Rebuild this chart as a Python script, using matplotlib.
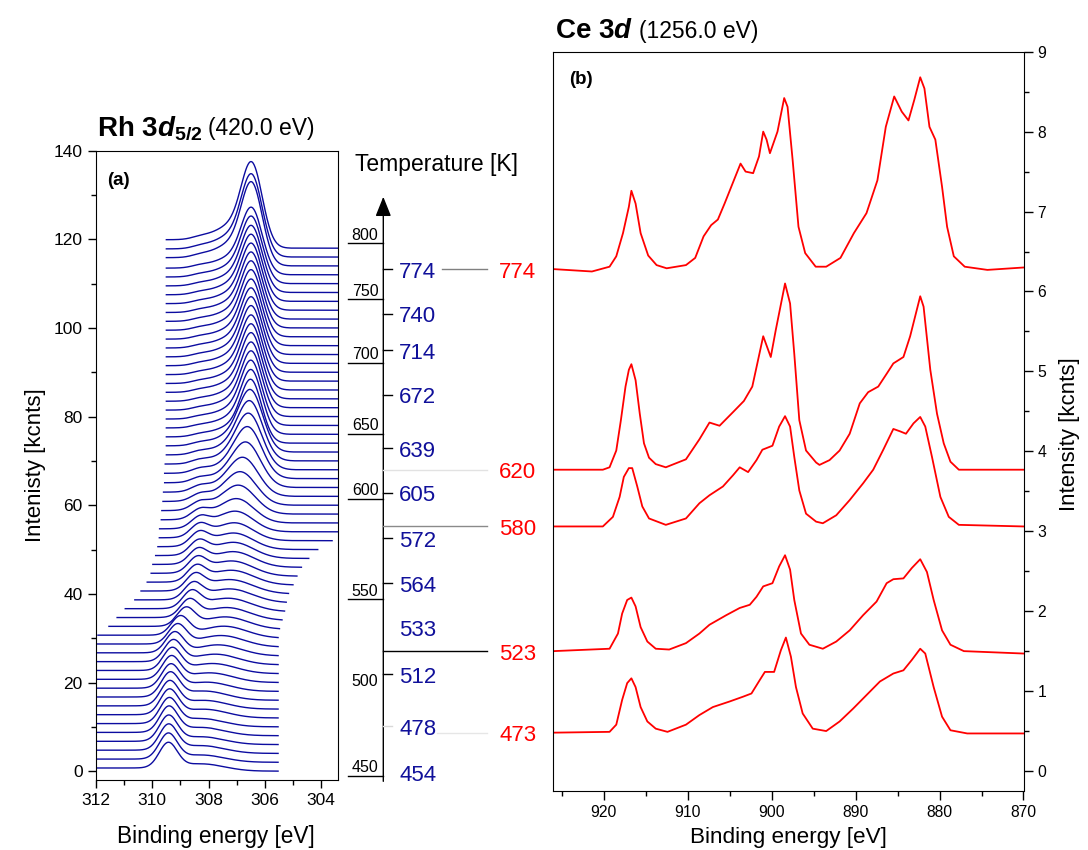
import numpy as np
import matplotlib
matplotlib.use('Agg')
import matplotlib.pyplot as plt
from matplotlib import transforms
from matplotlib.lines import Line2D
from matplotlib.patches import FancyArrowPatch
from matplotlib.ticker import MultipleLocator

plt.rcParams['font.family'] = ['Liberation Sans', 'DejaVu Sans']
plt.rcParams['mathtext.fontset'] = 'custom'
plt.rcParams['mathtext.rm'] = 'Liberation Sans'
plt.rcParams['mathtext.bf'] = 'Liberation Sans:bold'
plt.rcParams['mathtext.it'] = 'Liberation Sans:italic'
plt.rcParams['mathtext.bfit'] = 'Liberation Sans:italic:bold'

BLUE = '#0c0ca0'
RED = '#ff0000'

# ---------------- panel (a): Rh 3d5/2 stack, 60 spectra, offset 2 kcnts each
# energy window of each spectrum (high BE end, low BE end)
left_end = [312.4, 312.4, 312.4, 312.4, 312.4, 312.4, 312.4, 312.4, 312.4, 312.4,
            312.4, 312.4, 312.4, 312.4, 312.4, 311.94, 311.56, 311.26, 310.97, 310.64,
            310.41, 310.20, 310.05, 309.98, 309.90, 309.82, 309.77, 309.74, 309.70, 309.67,
            309.64, 309.61, 309.58, 309.56, 309.54, 309.52, 309.52, 309.52, 309.52, 309.52,
            309.52, 309.52, 309.52, 309.52, 309.52, 309.52, 309.52, 309.52, 309.52, 309.52,
            309.52, 309.52, 309.52, 309.52, 309.52, 309.52, 309.51, 309.51, 309.51, 309.51]
right_end = [305.53, 305.53, 305.53, 305.53, 305.53, 305.53, 305.53, 305.53, 305.53, 305.53,
             305.53, 305.53, 305.53, 305.53, 305.53, 305.53, 305.48, 305.39, 305.30, 305.24,
             305.16, 305.00, 304.86, 304.70, 304.44, 304.12, 303.61, 303.0, 303.0, 303.0,
             303.0, 303.0, 303.0, 303.0, 303.0, 303.0, 303.0, 303.0, 303.0, 303.0,
             303.0, 303.0, 303.0, 303.0, 303.0, 303.0, 303.0, 303.0, 303.0, 303.0,
             303.0, 303.0, 303.0, 303.0, 303.0, 303.0, 303.0, 303.0, 303.0, 303.0]
# high-BE component (position, height)
pos_a = [309.43, 309.43, 309.42, 309.42, 309.41, 309.40, 309.39, 309.38, 309.36, 309.34,
         309.32, 309.29, 309.25, 309.20, 309.10, 309.00, 308.80, 308.68, 308.60, 308.54,
         308.48, 308.43, 308.40, 308.37, 308.35, 308.33, 308.32, 308.30, 308.30, 308.30,
         308.30, 308.30, 308.30, 308.30, 308.30, 308.30, 308.30, 308.30, 308.30, 308.30,
         308.30, 308.30, 308.30, 308.30, 308.30, 308.30, 308.30, 308.30, 308.30, 308.30,
         308.30, 308.30, 308.30, 308.30, 308.30, 308.30, 308.30, 308.30, 308.30, 308.30]
amp_a = [5.6, 5.7, 5.7, 5.7, 5.7, 5.6, 5.6, 5.5, 5.4, 5.3,
         5.2, 5.1, 4.9, 4.7, 4.5, 4.3, 4.1, 3.9, 3.8, 3.6,
         3.5, 3.4, 3.3, 3.2, 3.1, 3.0, 2.8, 2.4, 2.0, 1.7,
         1.4, 1.2, 1.0, 0.9, 0.8, 0.7, 0.6, 0.5, 0.5, 0.5,
         0.5, 0.5, 0.5, 0.5, 0.5, 0.5, 0.5, 0.5, 0.5, 0.5,
         0.5, 0.5, 0.5, 0.5, 0.5, 0.5, 0.5, 0.5, 0.5, 0.5]
# low-BE component (position, height, width)
pos_b = [308.10, 308.10, 308.10, 308.10, 308.10, 308.10, 308.00, 308.00, 308.00, 307.90,
         307.80, 307.70, 307.60, 307.50, 307.40, 307.30, 307.25, 307.20, 307.15, 307.10,
         307.10, 307.05, 307.05, 307.00, 307.00, 307.00, 306.98, 306.96, 306.92, 306.86,
         306.80, 306.72, 306.62, 306.56, 306.53, 306.50, 306.48, 306.47, 306.46, 306.46,
         306.45, 306.45, 306.45, 306.45, 306.45, 306.45, 306.45, 306.45, 306.45, 306.45,
         306.45, 306.45, 306.45, 306.45, 306.45, 306.45, 306.45, 306.45, 306.45, 306.45]
amp_b = [1.5, 1.5, 1.6, 1.6, 1.7, 1.7, 1.8, 1.8, 1.9, 1.9,
         2.0, 2.1, 2.2, 2.3, 2.4, 2.5, 2.6, 2.7, 2.8, 2.9,
         3.0, 3.1, 3.2, 3.3, 3.4, 3.5, 3.8, 4.4, 5.2, 6.2,
         7.2, 8.4, 9.8, 11.2, 12.2, 13.0, 13.5, 13.8, 14.0, 14.1,
         14.2, 14.2, 14.3, 14.3, 14.3, 14.4, 14.4, 14.4, 14.4, 14.5,
         14.5, 14.5, 14.5, 14.5, 14.5, 14.6, 14.6, 18.2, 18.0, 18.7]
wid_b = [0.75, 0.75, 0.75, 0.75, 0.75, 0.75, 0.75, 0.75, 0.75, 0.75,
         0.75, 0.75, 0.75, 0.75, 0.75, 0.75, 0.75, 0.75, 0.75, 0.75,
         0.75, 0.72, 0.70, 0.68, 0.66, 0.64, 0.62, 0.60, 0.58, 0.56,
         0.54, 0.52, 0.50, 0.48, 0.46, 0.44, 0.42, 0.37, 0.37, 0.37,
         0.37, 0.37, 0.37, 0.37, 0.37, 0.37, 0.37, 0.37, 0.37, 0.37,
         0.37, 0.37, 0.37, 0.37, 0.37, 0.37, 0.37, 0.37, 0.37, 0.37]
offset_step = 2.0

# temperature scale between the panels (positions in panel-a kcnts units)
scale_T = [800, 750, 700, 650, 600, 550, 500, 450]
scale_y = [119.1, 106.5, 92.1, 76.1, 61.4, 38.8, 18.3, -1.1]
scale_line = [True, True, True, True, True, True, False, True]
blue_T = [774, 740, 714, 672, 639, 605, 572, 564, 533, 512, 478, 454]
blue_y = [113.3, 103.2, 95.0, 84.9, 72.9, 62.8, 52.6, 42.4, 32.5, 21.9, 10.2, -0.2]
blue_tick = ['k', 'k', 'k', 'k', 'k', 'k', 'k', 'k', None, 'k', '#d8d8d8', None]

# ---------------- panel (b): Ce 3d spectra at five temperatures
ce_T = [774, 620, 580, 523, 473]
be_774 = [926, 921.4, 919.3, 918.5, 917.7, 917.0, 916.7, 916.2, 915.6, 914.7, 913.7, 912.5,
          910.2, 909.1, 908.1, 907.2, 906.4, 905.6, 904.5, 903.7, 903.1, 902.2, 901.5, 901.0,
          900.6, 900.2, 899.3, 898.5, 898.1, 897.5, 896.8, 896.0, 894.75, 893.5, 891.8, 890.2,
          888.7, 887.4, 886.4, 885.4, 884.5, 883.7, 883.0, 882.3, 881.8, 881.2, 880.5, 879.7,
          879.1, 878.3, 877.0, 874.3, 870]
int_774 = [6.28, 6.25, 6.31, 6.44, 6.73, 7.06, 7.26, 7.10, 6.73, 6.45, 6.33, 6.29,
           6.33, 6.42, 6.69, 6.83, 6.90, 7.10, 7.39, 7.60, 7.50, 7.48, 7.69, 8.00,
           7.90, 7.73, 8.00, 8.42, 8.31, 7.65, 6.81, 6.48, 6.31, 6.31, 6.42, 6.73,
           6.98, 7.39, 8.06, 8.44, 8.25, 8.14, 8.40, 8.68, 8.54, 8.06, 7.90, 7.31,
           6.81, 6.44, 6.31, 6.27, 6.30]
be_620 = [926, 920.1, 919.3, 918.5, 917.95, 917.4, 917.0, 916.7, 916.2, 915.7, 915.2, 914.6,
          913.8, 912.6, 910.2, 908.6, 907.4, 906.2, 904.6, 903.3, 902.3, 901.7, 901.0, 900.1,
          899.5, 898.4, 897.8, 897.3, 896.7, 895.9, 894.7, 894.3, 893.1, 891.9, 890.7, 889.5,
          888.5, 887.3, 886.3, 885.5, 884.3, 883.5, 882.3, 881.9, 881.1, 880.3, 879.5, 878.7,
          877.7, 870]
int_620 = [3.77, 3.77, 3.80, 4.01, 4.39, 4.81, 5.02, 5.09, 4.89, 4.47, 4.10, 3.92,
           3.84, 3.80, 3.90, 4.15, 4.36, 4.32, 4.49, 4.63, 4.81, 5.10, 5.44, 5.18,
           5.52, 6.10, 5.85, 5.22, 4.39, 4.01, 3.86, 3.83, 3.89, 4.01, 4.22, 4.60,
           4.74, 4.81, 4.97, 5.10, 5.18, 5.44, 5.94, 5.81, 5.02, 4.47, 4.10, 3.87,
           3.77, 3.77]
be_580 = [926, 920.1, 918.9, 918.1, 917.6, 917.0, 916.6, 916.0, 915.4, 914.6, 912.6, 910.2,
          908.6, 907.4, 905.8, 904.6, 903.8, 902.8, 901.8, 901.1, 899.9, 899.1, 898.4, 897.8,
          897.3, 896.7, 895.9, 894.7, 893.9, 892.3, 890.7, 889.1, 887.9, 886.7, 885.5, 884.7,
          884.0, 883.1, 882.3, 881.7, 880.9, 879.9, 878.9, 877.7, 870]
int_580 = [3.06, 3.06, 3.18, 3.43, 3.68, 3.79, 3.79, 3.56, 3.31, 3.16, 3.08, 3.16,
           3.35, 3.45, 3.56, 3.70, 3.80, 3.74, 3.89, 4.02, 4.07, 4.31, 4.44, 4.31,
           3.93, 3.51, 3.22, 3.12, 3.10, 3.20, 3.39, 3.60, 3.77, 4.02, 4.28, 4.25,
           4.22, 4.35, 4.43, 4.31, 3.93, 3.43, 3.18, 3.08, 3.06]
be_523 = [926, 919.3, 918.3, 917.8, 917.2, 916.7, 916.2, 915.6, 914.8, 913.8, 912.2, 910.2,
          908.6, 907.4, 905.4, 903.8, 902.6, 901.8, 901.0, 899.9, 899.1, 898.4, 897.8, 897.3,
          896.5, 895.5, 893.9, 892.3, 890.7, 889.1, 887.5, 886.3, 885.5, 884.3, 883.3, 882.3,
          881.5, 880.7, 879.7, 878.7, 877.1, 870]
int_523 = [1.50, 1.53, 1.72, 1.97, 2.14, 2.17, 2.06, 1.80, 1.62, 1.53, 1.52, 1.60,
           1.72, 1.83, 1.95, 2.04, 2.08, 2.18, 2.31, 2.35, 2.56, 2.70, 2.52, 2.14,
           1.72, 1.58, 1.53, 1.62, 1.76, 1.95, 2.12, 2.35, 2.40, 2.41, 2.54, 2.65,
           2.49, 2.14, 1.76, 1.58, 1.50, 1.47]
be_473 = [926, 919.3, 918.5, 917.8, 917.2, 916.7, 916.2, 915.6, 914.8, 913.8, 912.4, 910.2,
          908.6, 907.0, 905.0, 903.4, 902.4, 901.4, 900.8, 899.7, 898.9, 898.3, 897.7, 897.1,
          896.3, 895.1, 893.5, 891.9, 890.3, 888.7, 887.1, 885.5, 884.3, 883.3, 882.3, 881.7,
          880.7, 879.7, 878.7, 876.7, 870]
int_473 = [0.48, 0.49, 0.58, 0.89, 1.10, 1.16, 1.05, 0.80, 0.62, 0.53, 0.49, 0.58,
           0.70, 0.80, 0.87, 0.93, 0.97, 1.14, 1.24, 1.24, 1.51, 1.67, 1.43, 1.05,
           0.72, 0.53, 0.50, 0.62, 0.78, 0.95, 1.12, 1.22, 1.26, 1.39, 1.53, 1.47,
           1.05, 0.68, 0.51, 0.47, 0.47]
ce_be = [be_774, be_620, be_580, be_523, be_473]
ce_int = [int_774, int_620, int_580, int_523, int_473]
# connector line styles for the red labels (start x in px, colour)
red_line_x0 = [441.7, 383.3, 383.3, 383.3, 437.0]
red_line_col = ['#808080', '#e2e2e2', '#8a8a8a', 'black', '#e6e6e6']

# ---------------- figure
W, H = 1088, 850
fig = plt.figure(figsize=(W / 100, H / 100), dpi=100)
ax_a = fig.add_axes([96 / W, 1 - 780 / H, 242 / W, 629.3 / H])
ax_b = fig.add_axes([553.3 / W, 1 - 791 / H, 470.2 / W, 739.3 / H])

for i in range(len(amp_a)):
    e = np.arange(right_end[i], left_end[i], 0.02)
    ga = np.exp(-0.5 * ((e - pos_a[i]) / 0.32) ** 2)
    gb = np.exp(-0.5 * ((e - pos_b[i]) / wid_b[i]) ** 2) \
        + 0.2 * np.exp(-0.5 * ((e - pos_b[i] - 0.7) / 0.6) ** 2)
    gb = gb / gb.max() if gb.max() > 0 else gb
    pk = amp_a[i] * ga + amp_b[i] * gb
    frac = np.cumsum(pk) / pk.sum()
    bg = offset_step * i + 0.1 * (amp_a[i] + amp_b[i]) * frac
    ax_a.plot(e, bg + pk, color=BLUE, lw=1.0)

ax_a.set_xlim(312, 303.4)
ax_a.set_ylim(-2, 140)
ax_a.xaxis.set_major_locator(MultipleLocator(2))
ax_a.xaxis.set_minor_locator(MultipleLocator(1))
ax_a.yaxis.set_major_locator(MultipleLocator(20))
ax_a.yaxis.set_minor_locator(MultipleLocator(10))
ax_a.tick_params(which='both', direction='out', top=False, right=False, labelsize=12.5)
ax_a.tick_params(which='major', length=6, width=1)
ax_a.tick_params(which='minor', length=3.5, width=1)
ax_a.text(0.044, 0.953, '(a)', transform=ax_a.transAxes, fontsize=13.5,
          fontweight='bold', va='center', ha='left')

for be, val in zip(ce_be, ce_int):
    ax_b.plot(be, val, color=RED, lw=1.3)
ax_b.set_xlim(926, 870)
ax_b.set_ylim(-0.25, 9)
ax_b.xaxis.set_major_locator(MultipleLocator(10))
ax_b.xaxis.set_minor_locator(MultipleLocator(5))
ax_b.yaxis.set_major_locator(MultipleLocator(1))
ax_b.yaxis.set_minor_locator(MultipleLocator(0.5))
ax_b.yaxis.tick_right()
ax_b.tick_params(which='both', direction='out', top=False, left=False, labelsize=11.3)
ax_b.tick_params(which='major', length=6.5, width=1)
ax_b.tick_params(which='minor', length=3.5, width=1)
ax_b.text(0.033, 0.962, '(b)', transform=ax_b.transAxes, fontsize=13.5,
          fontweight='bold', va='center', ha='left')

# axis labels
fig.text(215.8 / W, 1 - 836 / H, 'Binding energy [eV]', fontsize=16.3, ha='center', va='center')
fig.text(788 / W, 1 - 837 / H, 'Binding energy [eV]', fontsize=16.2, ha='center', va='center')
fig.text(36 / W, 1 - 465 / H, 'Intenisty [kcnts]', fontsize=16, rotation=90,
         ha='center', va='center')
fig.text(1069 / W, 1 - 434 / H, 'Intensity [kcnts]', fontsize=16, rotation=90,
         ha='center', va='center')

# titles
r = fig.canvas.get_renderer()
t1 = fig.text(96.7 / W, 1 - 135 / H, r'$\mathbf{Rh\ 3}\mathbfit{d}_{\mathbf{5/2}}$', fontsize=20)
bb = t1.get_window_extent(r)
fig.text((bb.x1 + 6) / W, 1 - 135 / H, '(420.0 eV)', fontsize=16.5)
t2 = fig.text(555 / W, 1 - 38.3 / H, r'$\mathbf{Ce\ 3}\mathbfit{d}$', fontsize=20)
bb = t2.get_window_extent(r)
fig.text((bb.x1 + 6) / W, 1 - 38.3 / H, '(1256.0 eV)', fontsize=16.5)

# temperature scale between the panels
tr_a = transforms.blended_transform_factory(fig.transFigure, ax_a.transData)
tr_b = transforms.blended_transform_factory(fig.transFigure, ax_b.transData)
xax = 383.3 / W
fig.add_artist(FancyArrowPatch((xax, -2.3), (xax, 129.6), transform=tr_a,
                               arrowstyle='-|>,head_length=1.0,head_width=0.4',
                               mutation_scale=12, color='k', lw=1.0,
                               shrinkA=0, shrinkB=0))
fig.text(436.5 / W, 136.8, 'Temperature [K]', transform=tr_a, fontsize=16.5,
         ha='center', va='center')
for T, y, has_line in zip(scale_T, scale_y, scale_line):
    if has_line:
        fig.add_artist(Line2D([348.3 / W, xax], [y, y], transform=tr_a, color='k', lw=1.0))
    fig.text(378.5 / W, y + 0.8, str(T), transform=tr_a, fontsize=11.5,
             ha='right', va='baseline')
for T, y, tc in zip(blue_T, blue_y, blue_tick):
    if tc is not None:
        fig.add_artist(Line2D([xax, 391.7 / W], [y, y], transform=tr_a, color=tc, lw=1.0))
    fig.text(399 / W, y - 0.7, str(T), transform=tr_a, fontsize=16, color='#10109a',
             ha='left', va='center')
for T, val, x0, lc in zip(ce_T, ce_int, red_line_x0, red_line_col):
    y = val[0]
    fig.add_artist(Line2D([x0 / W, 486.7 / W], [y, y], transform=tr_b, color=lc, lw=1.0))
    fig.text(499 / W, y - 0.04, str(T), transform=tr_b, fontsize=16, color=RED,
             ha='left', va='center')

fig.savefig('out.png', dpi=100)
